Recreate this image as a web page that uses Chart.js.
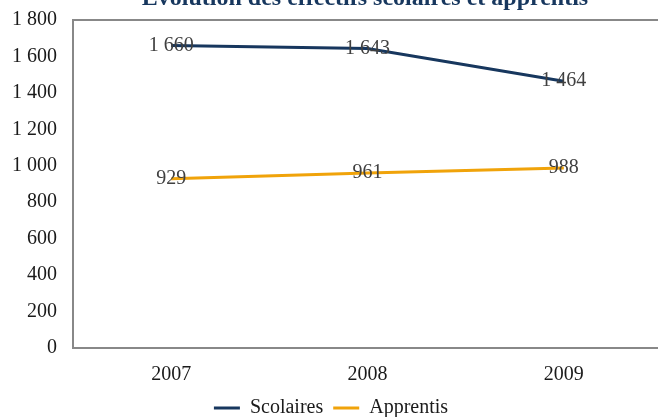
<!DOCTYPE html>
<html>
<head>
<meta charset="utf-8">
<script src="https://cdn.jsdelivr.net/npm/chart.js@4"></script>
<style>
html, body { margin: 0; padding: 0; overflow: hidden; background: #fff; }
#wrap { position: relative; width: 658px; height: 417px; overflow: hidden; }
#effectifsChart { position: absolute; left: 0; top: -8px; }
</style>
</head>
<body>
<div id="wrap"><canvas id="effectifsChart" width="662" height="425"></canvas></div>
<script>
'use strict'

let years = ['2007', '2008', '2009'];
let scolaires = [1660, 1643, 1464];
let apprentis = [929, 961, 988];
let yTicks = [0, 200, 400, 600, 800, 1000, 1200, 1400, 1600, 1800];
let titleText = 'Évolution des effectifs scolaires et apprentis';

const serif = "'Liberation Serif', 'Times New Roman', serif";

// espace comme séparateur de milliers : 1 800
const fmt = v => String(v).replace(/\B(?=(\d{3})+(?!\d))/g, ' ');

Chart.defaults.font.family = serif;
Chart.defaults.font.size = 20;
Chart.defaults.color = '#1a1a1a';

// cadre gris (haut, gauche, bas) ; le bord droit sort de l'image
const framePlugin = {
    id: 'frame',
    beforeDatasetsDraw(chart) {
        const a = chart.chartArea;
        const ctx = chart.ctx;
        ctx.save();
        ctx.strokeStyle = '#888888';
        ctx.lineWidth = 2;
        ctx.beginPath();
        ctx.moveTo(a.right + 2, a.top);
        ctx.lineTo(a.left, a.top);
        ctx.lineTo(a.left, a.bottom);
        ctx.lineTo(a.right + 2, a.bottom);
        ctx.stroke();
        ctx.restore();
    }
};

// valeurs affichées sur les points
const valuePlugin = {
    id: 'values',
    afterDatasetsDraw(chart) {
        const ctx = chart.ctx;
        ctx.save();
        ctx.font = '20px ' + serif;
        ctx.fillStyle = '#404040';
        ctx.textAlign = 'center';
        ctx.textBaseline = 'middle';
        chart.data.datasets.forEach((ds, i) => {
            chart.getDatasetMeta(i).data.forEach((pt, j) => {
                ctx.fillText(fmt(ds.data[j]), pt.x, pt.y);
            });
        });
        ctx.restore();
    }
};

// titre, coupé en haut comme sur l'original
const titlePlugin = {
    id: 'cutTitle',
    afterDraw(chart) {
        const ctx = chart.ctx;
        ctx.save();
        ctx.font = 'bold 24px ' + serif;
        ctx.fillStyle = '#17375e';
        ctx.textAlign = 'center';
        ctx.textBaseline = 'alphabetic';
        ctx.fillText(titleText, 365, 13);
        ctx.restore();
    }
};

const dataEffectifs = {
    labels: years,
    datasets: [
        {
            label: 'Scolaires',
            data: scolaires,
            borderColor: '#17375e',
            backgroundColor: '#17375e',
            borderWidth: 3,
            pointRadius: 0,
            tension: 0
        },
        {
            label: 'Apprentis',
            data: apprentis,
            borderColor: '#f0a30a',
            backgroundColor: '#f0a30a',
            borderWidth: 3,
            pointRadius: 0,
            tension: 0
        }
    ]
};

const configEffectifs = {
    type: 'line',
    data: dataEffectifs,
    options: {
        responsive: false,
        animation: false,
        layout: { padding: { top: 0, left: 0, right: 0, bottom: -11 } },
        plugins: {
            title: { display: false },
            tooltip: { enabled: false },
            legend: {
                position: 'bottom',
                labels: {
                    usePointStyle: true,
                    pointStyle: 'line',
                    pointStyleWidth: 26,
                    boxWidth: 26,
                    padding: 10,
                    color: '#1a1a1a'
                }
            }
        },
        scales: {
            x: {
                offset: true,
                grid: { display: false, drawTicks: false },
                border: { display: false },
                ticks: { padding: 15 },
                afterFit: s => { s.height = 40; }
            },
            y: {
                min: yTicks[0],
                max: yTicks[yTicks.length - 1],
                afterBuildTicks: s => { s.ticks = yTicks.map(v => ({ value: v })); },
                grid: { display: false, drawTicks: false },
                border: { display: false },
                ticks: { padding: 16, callback: v => fmt(v) },
                afterFit: s => { s.width = 73; }
            }
        }
    },
    plugins: [framePlugin, valuePlugin, titlePlugin]
};

const chartEffectifs = new Chart(
    document.getElementById('effectifsChart'),
    configEffectifs
);
</script>
</body>
</html>
